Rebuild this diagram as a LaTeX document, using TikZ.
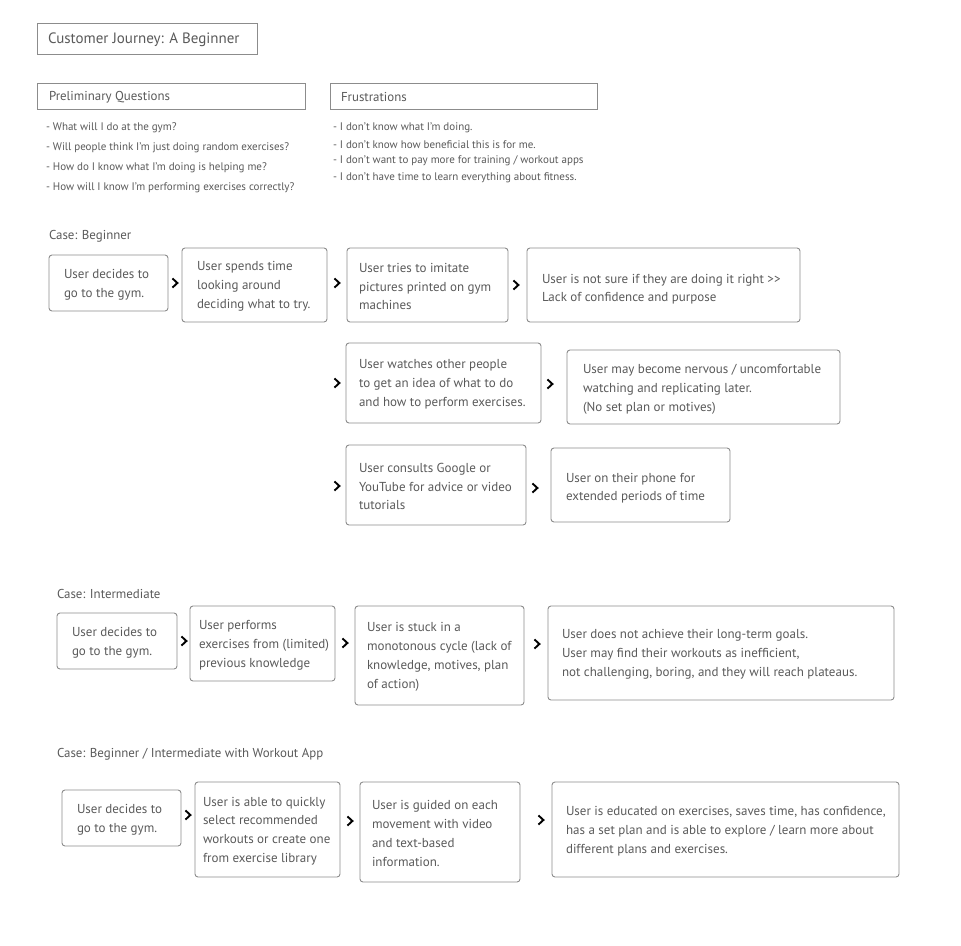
\documentclass[tikz,border=0pt]{standalone}
\usepackage{fontspec}
\setmainfont{PT Sans}
\begin{document}
\begin{tikzpicture}[x=1pt,y=-1pt,
  every node/.style={inner sep=0pt, outer sep=0pt},
  box/.style={draw=boxgray, line width=0.9pt, rounded corners=3pt, anchor=north west},
  hbox/.style={draw=boxgray, line width=0.9pt, anchor=north west},
  txt/.style={text=txtgray, align=left, anchor=west, yshift=-1.5pt, font=\fontsize{13}{18.8}\selectfont},
  small/.style={text=txtgray, anchor=west, yshift=-1.5pt, font=\fontsize{11}{12}\selectfont},
  head/.style={text=txtgray, anchor=west, yshift=-1pt, font=\fontsize{12.9}{14}\selectfont},
  chev/.pic={\draw[line width=1.9pt, black] (-2.6,-4.6) -- (2.4,0) -- (-2.6,4.6);}
]
\definecolor{boxgray}{HTML}{8C8C8C}
\definecolor{txtgray}{HTML}{5A5A5A}
\useasboundingbox (0,0) rectangle (961,945);
\fill[white] (0,0) rectangle (961,945);

% title
\node[hbox, minimum width=220, minimum height=31] (title) at (37,23) {};
\node[txtgray, anchor=west, yshift=-1pt, font=\fontsize{15}{16}\selectfont] (titlet) at ([xshift=11]title.west) {Customer Journey: A Beginner};

% headers
\node[hbox, minimum width=268, minimum height=26] (pq) at (37,83) {};
\node[head] (pqt) at ([xshift=12]pq.west) {Preliminary Questions};
\node[hbox, minimum width=267, minimum height=26] (fr) at (330,83) {};
\node[head] (frt) at ([xshift=11]fr.west) {Frustrations};

\node[small] (q1) at (46,126) {- What will I do at the gym?};
\node[small] (q2) at (46,146) {- Will people think I'm just doing random exercises?};
\node[small] (q3) at (46,166) {- How do I know what I'm doing is helping me?};
\node[small] (q4) at (46,186) {- How will I know I'm performing exercises correctly?};

\node[small] (f1) at (333,126) {- I don't know what I'm doing.};
\node[small] (f2) at (333,143) {- I don't know how beneficial this is for me.};
\node[small] (f3) at (333,159) {- I don't want to pay more for training / workout apps};
\node[small] (f4) at (333,176) {- I don't have time to learn everything about fitness.};

% Case: Beginner
\node[head] (cb) at (49,235) {Case: Beginner};
\node[box, minimum width=119, minimum height=56] (b1) at (49,255) {};
\node[txt] at ([xshift=15]b1.west) {User decides to\\go to the gym.};
\node[box, minimum width=145, minimum height=74] (b2) at (182,248) {};
\node[txt] at ([xshift=15]b2.west) {User spends time\\looking around\\deciding what to try.};
\node[box, minimum width=161, minimum height=74] (b3) at (347,248) {};
\node[txt] at ([xshift=12]b3.west) {User tries to imitate\\pictures printed on gym\\machines};
\node[box, minimum width=273, minimum height=74] (b4) at (527,248) {};
\node[txt, font=\fontsize{13}{17.5}\selectfont] at ([xshift=15,yshift=-2.5]b4.west) {User is not sure if they are doing it right >{}>\\Lack of confidence and purpose};

\node[box, minimum width=195, minimum height=80] (b5) at (346,343) {};
\node[txt] at ([xshift=13]b5.west) {User watches other people\\to get an idea of what to do\\and how to perform exercises.};
\node[box, minimum width=273, minimum height=74] (b6) at (567,350) {};
\node[txt] at ([xshift=16,yshift=-1]b6.west) {User may become nervous / uncomfortable\\watching and replicating later.\\(No set plan or motives)};

\node[box, minimum width=180, minimum height=80] (b7) at (346,445) {};
\node[txt] at ([xshift=13]b7.west) {User consults Google or\\YouTube for advice or video\\tutorials};
\node[box, minimum width=179, minimum height=74] (b8) at (551,448) {};
\node[txt, font=\fontsize{13}{18}\selectfont] at ([xshift=15,yshift=-1.5]b8.west) {User on their phone for\\extended periods of time};

\pic at (175,283) {chev};
\pic at (337,283) {chev};
\pic at (516,285) {chev};
\pic at (337,383) {chev};
\pic at (550,384) {chev};
\pic at (337,486) {chev};
\pic at (535,488) {chev};

% Case: Intermediate
\node[head] (ci) at (57,593) {Case: Intermediate};
\node[box, minimum width=120, minimum height=56] (i1) at (57,613) {};
\node[txt] at ([xshift=15]i1.west) {User decides to\\go to the gym.};
\node[box, minimum width=145, minimum height=75] (i2) at (190,606) {};
\node[txt] at ([xshift=9]i2.west) {User performs\\exercises from (limited)\\previous knowledge};
\node[box, minimum width=169, minimum height=99] (i3) at (355,606) {};
\node[txt] at ([xshift=12]i3.west) {User is stuck in a\\monotonous cycle (lack of\\knowledge, motives, plan\\of action)};
\node[box, minimum width=346, minimum height=94] (i4) at (548,606) {};
\node[txt] at ([xshift=14]i4.west) {User does not achieve their long-term goals.\\User may find their workouts as inefficient,\\not challenging, boring, and they will reach plateaus.};

\pic at (184,641) {chev};
\pic at (345,643) {chev};
\pic at (537,644) {chev};

% Case: App
\node[head] (ca) at (57,753) {Case: Beginner / Intermediate with Workout App};
\node[box, minimum width=119, minimum height=56] (a1) at (62,790) {};
\node[txt] at ([xshift=15]a1.west) {User decides to\\go to the gym.};
\node[box, minimum width=145, minimum height=95] (a2) at (195,782) {};
\node[txt] at ([xshift=8]a2.west) {User is able to quickly\\select recommended\\workouts or create one\\from exercise library};
\node[box, minimum width=160, minimum height=100] (a3) at (360,782) {};
\node[txt] at ([xshift=12]a3.west) {User is guided on each\\movement with video\\and text-based\\information.};
\node[box, minimum width=347, minimum height=95] (a4) at (552,782) {};
\node[txt] at ([xshift=14]a4.west) {User is educated on exercises, saves time, has confidence,\\has a set plan and is able to explore / learn more about\\different plans and exercises.};

\pic at (188,815) {chev};
\pic at (350,821) {chev};
\pic at (541,820) {chev};
\end{tikzpicture}
\end{document}
